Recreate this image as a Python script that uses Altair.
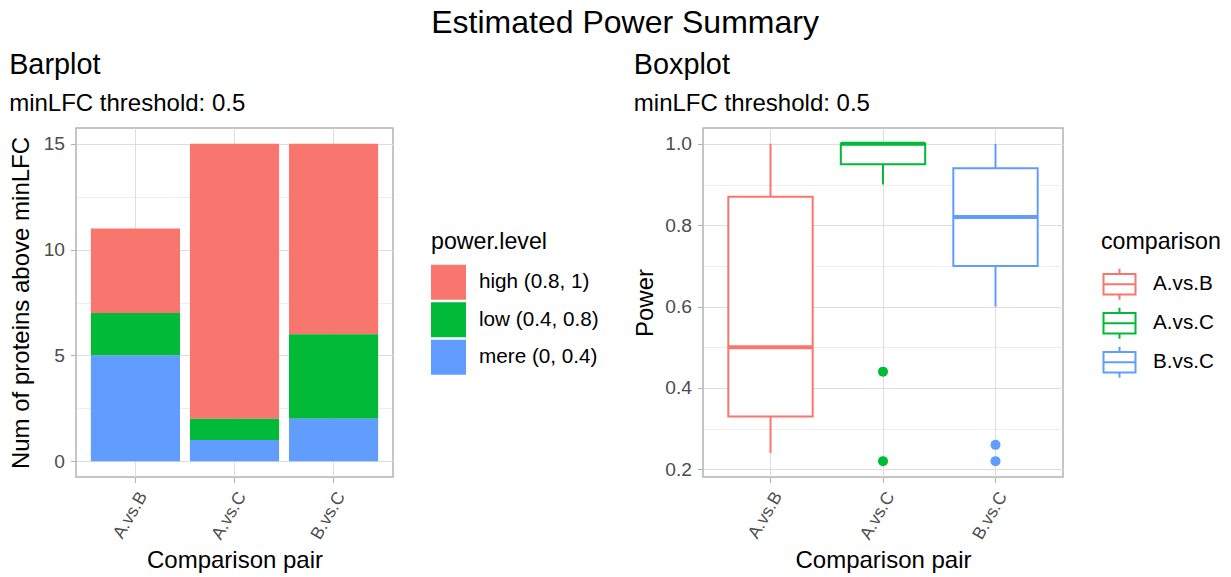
import altair as alt
import pandas as pd

# ---------------- data ----------------
comparisons = ["A.vs.B", "A.vs.C", "B.vs.C"]
power_levels = ["high (0.8, 1)", "low (0.4, 0.8)", "mere (0, 0.4)"]
high_counts = [4, 13, 9]
low_counts = [2, 1, 4]
mere_counts = [5, 1, 2]

box_lower = [0.24, 0.90, 0.60]
box_q1 = [0.33, 0.95, 0.70]
box_median = [0.50, 1.00, 0.82]
box_q3 = [0.87, 1.00, 0.94]
box_upper = [1.00, 1.00, 1.00]
outlier_comparison = ["A.vs.C", "A.vs.C", "B.vs.C", "B.vs.C"]
outlier_power = [0.44, 0.22, 0.26, 0.22]

bar_ticks = [0, 2.5, 5, 7.5, 10, 12.5, 15]
power_ticks = [0.2, 0.3, 0.4, 0.5, 0.6, 0.7, 0.8, 0.9, 1.0]

# ---------------- style ----------------
FONT = "Liberation Sans"
RED, GREEN, BLUE = "#F8766D", "#00BA38", "#619CFF"
PAL = [RED, GREEN, BLUE]
LW, PW, PH = 317, 360, 349
BOX_PX = 0.75 * PW / 3.2

bar_rows = []
for i, c in enumerate(comparisons):
    for lvl, counts, rank in [(power_levels[0], high_counts, 2),
                              (power_levels[1], low_counts, 1),
                              (power_levels[2], mere_counts, 0)]:
        bar_rows.append({"comparison": c, "power_level": lvl,
                         "count": counts[i], "rank": rank})
bar_df = pd.DataFrame(bar_rows)

box_df = pd.DataFrame({"comparison": comparisons, "lower": box_lower,
                       "q1": box_q1, "median": box_median, "q3": box_q3,
                       "upper": box_upper})
out_df = pd.DataFrame({"comparison": outlier_comparison, "power": outlier_power})

xscale = alt.Scale(domain=comparisons, paddingInner=0.1, paddingOuter=0.15)


def xaxis():
    return alt.Axis(title="Comparison pair", labelAngle=300, labelAlign="right",
                    labelBaseline="top", labelFontSize=17.5, grid=True,
                    titlePadding=7)


title_common = dict(anchor="start", fontSize=28.8, subtitleFontSize=24,
                    font=FONT, subtitleFont=FONT, fontWeight="normal",
                    color="black", subtitleColor="black", offset=12.5,
                    subtitlePadding=12.2, baseline="top")

# ---------------- left: barplot ----------------
bar = alt.Chart(bar_df).mark_bar().encode(
    x=alt.X("comparison:N", scale=xscale, axis=xaxis()),
    y=alt.Y("count:Q", stack="zero",
            scale=alt.Scale(domain=[-0.75, 15.75], nice=False, zero=False),
            axis=alt.Axis(title="Num of proteins above minLFC", values=bar_ticks,
                          labelExpr="datum.value % 5 == 0 ? datum.label : ''",
                          tickOpacity=alt.condition("datum.value % 5 == 0", alt.value(1), alt.value(0)),
                          gridWidth=alt.condition("datum.value % 5 == 0", alt.value(1.1), alt.value(0.55)),
                          labelOverlap=False, titlePadding=10)),
    color=alt.Color("power_level:N",
                    scale=alt.Scale(domain=power_levels, range=PAL),
                    legend=alt.Legend(title="power.level", orient="none",
                                      legendX=355, legendY=103,
                                      symbolType="square", symbolSize=1225,
                                      symbolStrokeWidth=0, labelOffset=13,
                                      rowPadding=2.5, titlePadding=10.5)),
    order=alt.Order("rank:Q", sort="ascending"),
).properties(width=LW, height=PH,
             title=alt.TitleParams(text="Barplot", subtitle="minLFC threshold: 0.5",
                                   **title_common))

# ---------------- right: boxplot ----------------
PATH = ("M-0.914,-0.586H0.914V0.586H-0.914Z M-0.914,0H0.914 "
        "M0,-0.586V-0.886 M0,0.586V0.886")
yscale = alt.Scale(domain=[0.181, 1.039], nice=False, zero=False)
stroke_enc = alt.Stroke("comparison:N", scale=alt.Scale(domain=comparisons, range=PAL),
                        legend=None)
fill_enc = alt.Fill("comparison:N", scale=alt.Scale(domain=comparisons, range=PAL),
                    legend=None)

base = alt.Chart(box_df).encode(x=alt.X("comparison:N", scale=xscale, axis=xaxis()))

whisker = base.mark_rule(strokeWidth=2).encode(
    y=alt.Y("lower:Q", scale=yscale,
            axis=alt.Axis(title="Power", values=power_ticks, format=".1f",
                          labelExpr="round(datum.value*10) % 2 == 0 ? datum.label : ''",
                          tickOpacity=alt.condition("round(datum.value*10) % 2 == 0", alt.value(1), alt.value(0)),
                          gridWidth=alt.condition("round(datum.value*10) % 2 == 0", alt.value(1.1), alt.value(0.55)),
                          labelOverlap=False, titlePadding=7)),
    y2="upper:Q",
    stroke=stroke_enc,
)
box = base.mark_bar(fill="white", strokeWidth=2, width=alt.RelativeBandSize(0.75 / 0.9)).encode(
    y=alt.Y("q1:Q", title="Power"),
    y2="q3:Q",
    stroke=stroke_enc,
)
median = base.mark_tick(thickness=4, size=BOX_PX, opacity=1).encode(
    y=alt.Y("median:Q", title="Power"),
    fill=fill_enc,
)
outliers = alt.Chart(out_df).mark_circle(size=100, opacity=1).encode(
    x=alt.X("comparison:N", scale=xscale, axis=xaxis()),
    y=alt.Y("power:Q", title="Power"),
    fill=fill_enc,
)
# legend-only layer (draws no marks)
legend_layer = base.mark_point(filled=False, shape=PATH, strokeWidth=2, opacity=1).encode(
    y=alt.Y("median:Q", title="Power"),
    color=alt.Color("comparison:N", scale=alt.Scale(domain=comparisons, range=PAL),
                    legend=alt.Legend(title="comparison", orient="none",
                                      legendX=398, legendY=102.5,
                                      symbolType=PATH, symbolSize=1225,
                                      symbolStrokeWidth=2, symbolOpacity=1,
                                      labelOffset=15, rowPadding=-5,
                                      titlePadding=12)),
).transform_filter("false")

boxplot = alt.layer(whisker, box, median, outliers, legend_layer).properties(
    width=PW, height=PH,
    title=alt.TitleParams(text="Boxplot", subtitle="minLFC threshold: 0.5", **title_common))

chart = alt.hconcat(bar, boxplot, spacing=33).resolve_scale(
    color="independent"
).resolve_legend(
    color="independent"
).properties(
    padding={"top": -2, "left": 0, "right": 0, "bottom": 0},
    title=alt.TitleParams("Estimated Power Summary", fontSize=32, font=FONT,
                          fontWeight="normal", color="black", anchor="middle",
                          offset=10, baseline="top", dx=10),
).configure_view(stroke="#b3b3b3", strokeWidth=1.5).configure_axis(
    labelFont=FONT, titleFont=FONT, labelFontSize=19.2, titleFontSize=24,
    titleFontWeight="normal", labelColor="#4d4d4d", titleColor="black",
    tickColor="#b3b3b3", tickSize=5.5, tickWidth=1.1, domain=False,
    gridColor="#dedede", labelPadding=6,
).configure_legend(
    labelFont=FONT, titleFont=FONT, labelFontSize=20.7, titleFontSize=23.2,
    titleFontWeight="normal", labelColor="black", titleColor="black",
)

chart.save("out.html", embed_options={"renderer": "svg", "actions": False})
